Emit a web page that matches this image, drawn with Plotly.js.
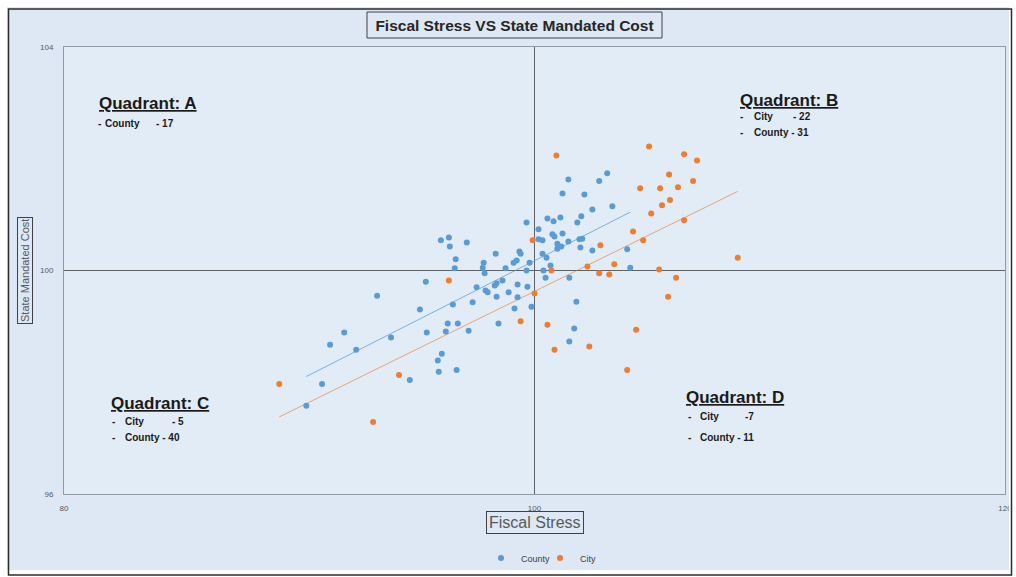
<!DOCTYPE html>
<html>
<head>
<meta charset="utf-8">
<script src="https://cdn.plot.ly/plotly-3.0.1.min.js"></script>
<style>html,body{margin:0;padding:0;background:#fff;overflow:hidden;}#chart{width:1016px;height:577px;}</style>
</head>
<body>
<div id="chart"></div>
<script>
// ---- Data ----
const countyX = [90.30, 90.97, 91.31, 91.91, 92.42, 93.31, 93.90, 94.70, 95.13, 95.38,
  95.42, 96.02, 96.36, 96.40, 97.12, 96.65, 96.61, 96.23, 96.31, 96.74,
  97.20, 96.53, 97.37, 96.06, 95.89, 95.93, 96.69, 97.54, 97.92, 98.01,
  98.31, 98.39, 98.64, 98.39, 98.47, 98.90, 99.28, 99.70, 99.28, 99.15,
  99.87, 97.84, 97.80, 97.88, 98.35, 98.77, 99.11, 99.24, 99.36, 99.41,
  99.66, 99.79, 99.66, 100.17, 100.34, 100.17, 100.34, 100.51, 100.68, 100.38,
  100.47, 100.55, 100.81, 101.10, 100.76, 100.85, 101.19, 100.97, 101.14, 100.97,
  101.44, 101.91, 102.03, 101.95, 102.46, 101.82, 101.99, 102.46, 103.31, 101.19,
  102.12, 101.44, 102.75, 103.09, 101.48, 101.78, 103.94, 104.07, 101.48, 101.69];
const countyY = [97.58, 97.97, 98.67, 98.89, 98.58, 99.55, 98.80, 98.04, 99.30, 99.80,
  98.89, 100.54, 100.59, 100.43, 100.50, 100.20, 100.04, 98.91, 99.05, 99.05,
  98.92, 99.39, 99.43, 98.51, 98.39, 98.19, 98.22, 99.70, 99.64, 99.61,
  99.73, 99.77, 99.82, 99.53, 99.05, 99.61, 99.75, 99.71, 99.52, 99.32,
  99.35, 100.14, 100.05, 99.95, 100.30, 100.04, 100.14, 100.18, 100.34, 100.30,
  100.86, 100.14, 100.00, 100.74, 100.54, 100.56, 100.30, 100.23, 100.09, 100.00,
  99.87, 100.93, 100.88, 100.95, 100.65, 100.61, 100.66, 100.48, 100.43, 100.39,
  100.52, 100.56, 100.57, 100.41, 100.36, 100.86, 100.97, 101.09, 101.15, 101.38,
  101.36, 101.63, 101.60, 101.74, 99.87, 99.44, 100.38, 100.05, 98.73, 98.96];

const cityX = [89.15, 93.14, 94.24, 96.36, 99.41, 99.92, 100.00, 100.93, 100.72, 100.55,
  100.85, 102.33, 102.25, 102.80, 102.75, 103.18, 103.39, 104.19, 104.62, 104.49,
  104.87, 104.96, 105.34, 105.42, 105.76, 105.72, 106.10, 106.36, 106.91, 106.74,
  106.36, 105.30, 106.02, 105.68, 108.64, 104.32, 103.94];
const cityY = [97.97, 97.29, 98.13, 99.82, 99.09, 100.54, 99.59, 102.06, 100.00, 99.03,
  98.58, 98.64, 100.07, 100.45, 99.95, 99.93, 100.11, 100.70, 100.54, 101.47,
  102.22, 101.02, 101.47, 101.17, 101.26, 101.72, 101.49, 102.08, 101.97, 101.60,
  100.90, 100.02, 99.87, 99.53, 100.23, 98.94, 98.22];

const seriesNames = ['County', 'City'];
const xTicks = [80, 100, 120];
const yTicks = [96, 100, 104];
const chartTitle = 'Fiscal Stress VS State Mandated Cost';
const xTitle = 'Fiscal Stress';
const yTitle = 'State Mandated Cost';
const quadrants = [
  {name: 'Quadrant: A', rows: [['County', '- 17']]},
  {name: 'Quadrant: B', rows: [['City', '- 22'], ['County - 31', '']]},
  {name: 'Quadrant: C', rows: [['City', '- 5'], ['County - 40', '']]},
  {name: 'Quadrant: D', rows: [['City', '-7'], ['County - 11', '']]}
];

// ---- Linear trendline (least squares) over the data range ----
function linfit(xs, ys) {
  const n = xs.length;
  let sx = 0, sy = 0, sxx = 0, sxy = 0;
  for (let i = 0; i < n; i++) { sx += xs[i]; sy += ys[i]; sxx += xs[i]*xs[i]; sxy += xs[i]*ys[i]; }
  const m = (n*sxy - sx*sy) / (n*sxx - sx*sx);
  const b = (sy - m*sx) / n;
  const x0 = Math.min(...xs), x1 = Math.max(...xs);
  return {x: [x0, x1], y: [m*x0 + b, m*x1 + b]};
}
const cTrend = linfit(countyX, countyY);
const kTrend = linfit(cityX, cityY);

const BLUE = '#5b9bd5', ORANGE = '#ed7d31';
const SANS = '"Liberation Sans", Arial, sans-serif';

const traces = [
  {type: 'scatter', mode: 'lines', x: cTrend.x, y: cTrend.y, showlegend: false, hoverinfo: 'skip',
   line: {color: BLUE, width: 1}, opacity: 0.75},
  {type: 'scatter', mode: 'lines', x: kTrend.x, y: kTrend.y, showlegend: false, hoverinfo: 'skip',
   line: {color: ORANGE, width: 1}, opacity: 0.65},
  {type: 'scatter', mode: 'markers', name: seriesNames[0], x: countyX, y: countyY,
   marker: {color: BLUE, size: 6, line: {width: 0}}},
  {type: 'scatter', mode: 'markers', name: seriesNames[1], x: cityX, y: cityY,
   marker: {color: ORANGE, size: 6, line: {width: 0}}}
];

// pixel -> paper helpers (plot area: x 64..1005, y 47..494)
const L = 64, R = 1005, T = 47, B = 494;
const PX = p => (p - L) / (R - L);
const PY = p => (B - p) / (B - T);

const annotations = [];
function txt(x, y, text, size, opts) {
  annotations.push(Object.assign({
    xref: 'paper', yref: 'paper', x: PX(x), y: PY(y), text: text, showarrow: false,
    xanchor: 'left', yanchor: 'middle',
    font: {family: SANS, size: size, color: '#1a1a1a'}
  }, opts || {}));
}
// Quadrant labels
const qPos = [
  {hx: 97, hy: 103, dash: 97, col1: 103, col2: 154, rows: [123]},
  {hx: 738, hy: 100, dash: 739, col1: 752, col2: 791, rows: [116, 132]},
  {hx: 109, hy: 403, dash: 111, col1: 123, col2: 170, rows: [421, 437]},
  {hx: 684, hy: 397, dash: 687, col1: 698, col2: 743, rows: [416, 437]}
];
quadrants.forEach((q, i) => {
  const p = qPos[i];
  txt(p.hx, p.hy, '<b><u>' + q.name + '</u></b>', 17);
  q.rows.forEach((r, j) => {
    const y = p.rows[j];
    txt(p.dash - 1, y, '<b>-</b>', 10);
    txt(p.col1, y, '<b>' + r[0] + '</b>', 10);
    if (r[1]) txt(p.col2, y, '<b>' + r[1] + '</b>', 10);
  });
});
// Axis titles (boxed)
annotations.push({xref: 'paper', yref: 'paper', x: PX(535), y: PY(522), text: xTitle, showarrow: false,
  xanchor: 'center', yanchor: 'middle', font: {family: SANS, size: 16, color: '#595959'},
  bordercolor: '#404040', borderwidth: 1, borderpad: 2});
annotations.push({xref: 'paper', yref: 'paper', x: PX(25), y: PY(271), text: yTitle, showarrow: false,
  textangle: -90, xanchor: 'center', yanchor: 'middle', font: {family: SANS, size: 11, color: '#595959'},
  bordercolor: '#404040', borderwidth: 1, borderpad: 1});

const shapes = [
  // white outer margin and chart border
  {type: 'rect', xref: 'paper', yref: 'paper', x0: PX(0), x1: PX(1016), y0: PY(577), y1: PY(0),
   line: {color: '#ffffff', width: 14}, layer: 'above'},
  {type: 'rect', xref: 'paper', yref: 'paper', x0: PX(8.5), x1: PX(1011.5), y0: PY(575), y1: PY(9),
   line: {color: '#2b2b2b', width: 1.5}, layer: 'above'},
  // title box
  {type: 'rect', xref: 'paper', yref: 'paper', x0: PX(367), x1: PX(662), y0: PY(38), y1: PY(12),
   line: {color: '#404040', width: 1}, layer: 'above'}
];

const layout = {
  width: 1016, height: 577,
  margin: {l: L, r: 1016 - R, t: T, b: 577 - B, pad: 0, autoexpand: false},
  paper_bgcolor: '#dde8f4',
  plot_bgcolor: '#e2ecf7',
  title: {text: '<b>' + chartTitle + '</b>', xref: 'container', yref: 'container',
          x: 514.5/1016, y: 1 - 25.5/577, xanchor: 'center', yanchor: 'middle',
          font: {family: SANS, size: 15.5, color: '#262626'}},
  xaxis: {range: [80, 120], tickvals: xTicks, ticktext: xTicks.map(String), showgrid: true,
          gridcolor: '#5f6368', gridwidth: 1, zeroline: false, showline: true, mirror: true,
          linecolor: '#8e9aa6', linewidth: 1, ticks: '', ticklabelstandoff: 6,
          tickfont: {family: SANS, size: 8, color: '#595959'}, fixedrange: true, automargin: false},
  yaxis: {range: [96, 104], tickvals: yTicks, ticktext: yTicks.map(String), showgrid: true,
          gridcolor: '#5f6368', gridwidth: 1, zeroline: false, showline: true, mirror: true,
          linecolor: '#8e9aa6', linewidth: 1, ticks: '', ticklabelstandoff: 8,
          tickfont: {family: SANS, size: 8, color: '#595959'}, fixedrange: true, automargin: false},
  showlegend: true,
  legend: {orientation: 'h', x: PX(540), xanchor: 'center', y: PY(558), yanchor: 'middle',
           bgcolor: 'rgba(0,0,0,0)', font: {family: SANS, size: 9, color: '#404040'},
           itemwidth: 30, tracegroupgap: 0, itemsizing: 'trace',
           entrywidth: 14, entrywidthmode: 'pixels'},
  annotations: annotations,
  shapes: shapes
};

Plotly.newPlot('chart', traces, layout, {displayModeBar: false, staticPlot: true});
</script>
</body>
</html>
